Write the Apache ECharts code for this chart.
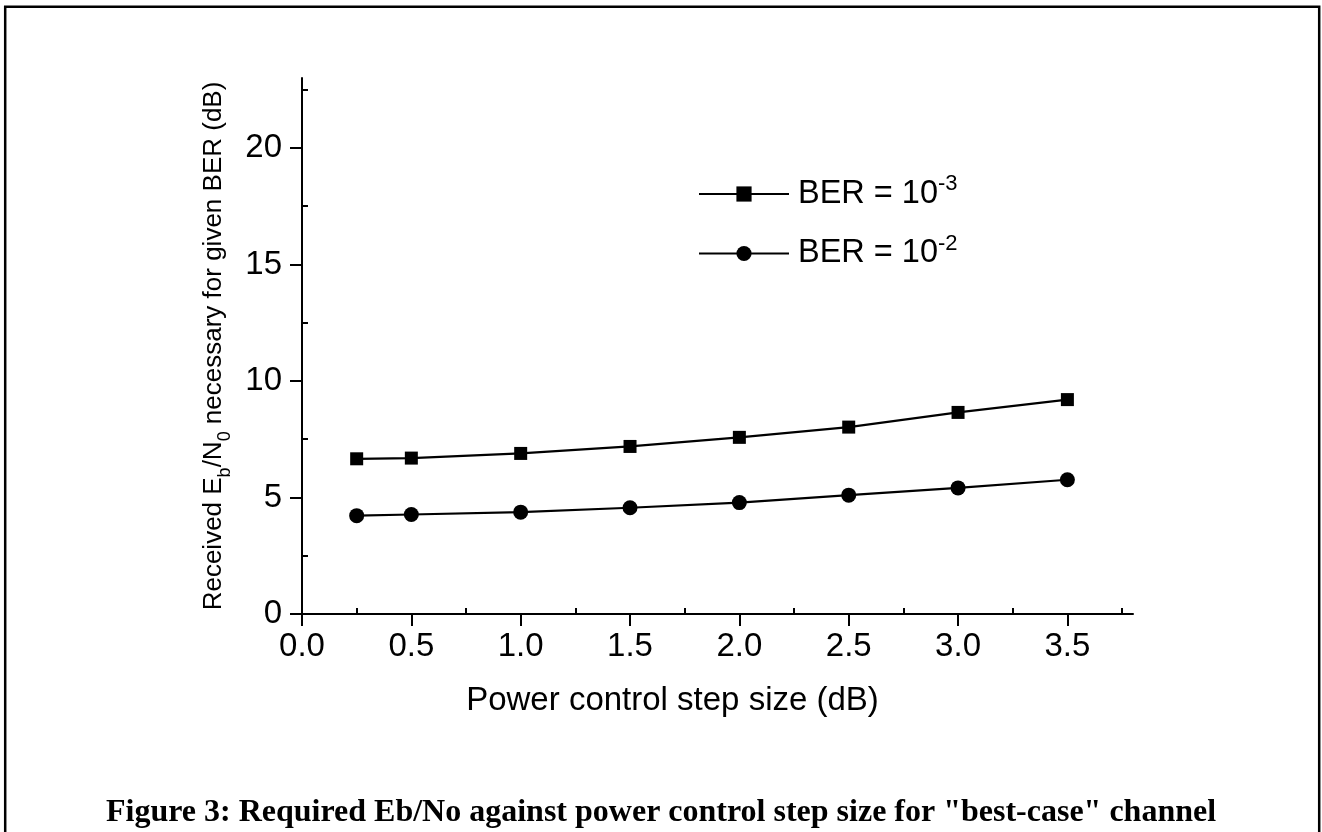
<!DOCTYPE html>
<html>
<head>
<meta charset="utf-8">
<script src="https://cdn.jsdelivr.net/npm/echarts@6/dist/echarts.min.js"></script>
<style>
  html, body {margin: 0; padding: 0; background: #fff;}
  #chart {width: 1322px; height: 832px;}
</style>
</head>
<body>
<div id="chart"></div>
<script>
const stepSize = [0.25, 0.5, 1.0, 1.5, 2.0, 2.5, 3.0, 3.5];
const ber3 = [6.66, 6.69, 6.89, 7.19, 7.58, 8.02, 8.65, 9.20];
const ber2 = [4.22, 4.27, 4.37, 4.56, 4.78, 5.10, 5.41, 5.76];
const xMajor = [0, 0.5, 1.0, 1.5, 2.0, 2.5, 3.0, 3.5];
const xMinor = [0.25, 0.75, 1.25, 1.75, 2.25, 2.75, 3.25, 3.75];
const yMajor = [0, 5, 10, 15, 20];
const yMinor = [2.5, 7.5, 12.5, 17.5, 22.5];

const font = 'Liberation Sans, Arial, sans-serif';
const black = '#000';

const chart = echarts.init(document.getElementById('chart'));

const baseAxis = {
  axisLine: {show: true, onZero: false, lineStyle: {color: black, width: 2}},
  splitLine: {show: false},
};

chart.setOption({
  animation: false,
  backgroundColor: '#fff',
  title: {
    text: 'Figure 3: Required Eb/No against power control step size for "best-case" channel',
    left: 'center',
    top: 792,
    textStyle: {fontFamily: 'Liberation Serif, Times New Roman, serif', fontWeight: 'bold', fontSize: 32, color: black}
  },
  graphic: [{
    type: 'rect',
    shape: {x: 5.2, y: 6.7, width: 1314, height: 900},
    style: {fill: null, stroke: black, lineWidth: 2.5},
    silent: true
  }],
  grid: {left: 302, top: 78, right: 189, bottom: 218},
  legend: {
    orient: 'vertical',
    left: 693,
    top: 168,
    itemWidth: 90,
    itemHeight: 19,
    itemGap: 22,
    data: ['BER3', 'BER2'],
    formatter(name) {
      return name === 'BER3' ? 'BER = 10{sup|-3}' : 'BER = 10{sup|-2}';
    },
    textStyle: {
      fontFamily: font, fontSize: 32.5, color: black, padding: [0, 0, 0, 4],
      rich: {
        sup: {fontFamily: font, fontSize: 22, color: black, verticalAlign: 'top', padding: [0, 0, 20, 0]}
      }
    }
  },
  xAxis: [{
    ...baseAxis,
    type: 'value',
    min: 0,
    max: 3.8,
    interval: 0.5,
    name: 'Power control step size (dB)',
    nameLocation: 'middle',
    nameGap: 70,
    nameTextStyle: {fontFamily: font, fontSize: 33, color: black, padding: [0, 90, 0, 0]},
    axisTick: {show: true, length: 12, lineStyle: {color: black, width: 2}, customValues: xMajor},
    axisLabel: {
      fontFamily: font, fontSize: 33, color: black, margin: 16,
      customValues: xMajor,
      formatter: v => v.toFixed(1)
    }
  }, {
    ...baseAxis,
    type: 'value',
    min: 0,
    max: 3.8,
    axisLine: {show: false},
    axisTick: {show: true, length: 6, lineStyle: {color: black, width: 2}, customValues: xMinor},
    axisLabel: {show: false}
  }],
  yAxis: [{
    ...baseAxis,
    type: 'value',
    min: 0,
    max: 23,
    interval: 5,
    name: 'Received E{sub|b}/N{sub|0} necessary for given BER (dB)',
    nameLocation: 'middle',
    nameGap: 70,
    nameTextStyle: {
      fontFamily: font, fontSize: 26, color: black,
      rich: {
        sub: {fontFamily: font, fontSize: 18, color: black, verticalAlign: 'bottom', padding: [0, 0, -8, 0]}
      }
    },
    axisTick: {show: true, length: 12, lineStyle: {color: black, width: 2}, customValues: yMajor},
    axisLabel: {fontFamily: font, fontSize: 33, color: black, margin: 20, customValues: yMajor}
  }, {
    ...baseAxis,
    type: 'value',
    min: 0,
    max: 23,
    axisLine: {show: false},
    axisTick: {show: true, length: 6, lineStyle: {color: black, width: 2}, customValues: yMinor},
    axisLabel: {show: false}
  }],
  series: [{
    name: 'BER3',
    type: 'line',
    data: stepSize.map((x, i) => [x, ber3[i]]),
    symbol: 'rect',
    symbolSize: 13,
    lineStyle: {color: black, width: 2.2},
    itemStyle: {color: black}
  }, {
    name: 'BER2',
    type: 'line',
    data: stepSize.map((x, i) => [x, ber2[i]]),
    symbol: 'circle',
    symbolSize: 15,
    lineStyle: {color: black, width: 2.2},
    itemStyle: {color: black}
  }]
});
</script>
</body>
</html>
